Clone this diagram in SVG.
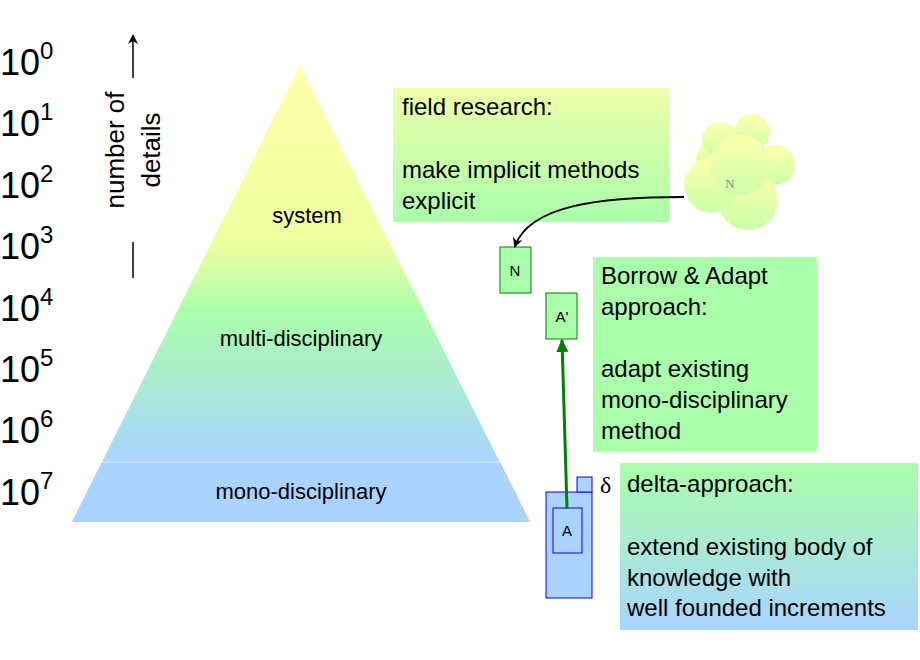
<svg xmlns="http://www.w3.org/2000/svg" width="920" height="660" viewBox="0 0 920 660">
<style>
text{font-family:"Liberation Sans",Arial,sans-serif;fill:#000}
.p{font-size:36px}.s{font-size:24px}
.lbl{font-size:22px}
.bx{font-size:24px}
.sm{fill:#aaffaa;stroke:#008000;stroke-width:1}
</style>
<defs>
<linearGradient id="pyr" x1="0" y1="65" x2="0" y2="462" gradientUnits="userSpaceOnUse">
<stop offset="0" stop-color="#ffffaa"/><stop offset="0.45" stop-color="#eeffa0"/><stop offset="0.62" stop-color="#aaffaa"/><stop offset="1" stop-color="#aad4ff"/>
</linearGradient>
<linearGradient id="fr" x1="0" y1="0" x2="0" y2="1"><stop offset="0" stop-color="#eeffaa"/><stop offset="1" stop-color="#aaffaa"/></linearGradient>
<linearGradient id="dl" x1="0" y1="0" x2="0" y2="1"><stop offset="0" stop-color="#aaffaa"/><stop offset="1" stop-color="#aad4ff"/></linearGradient>
<linearGradient id="cl" x1="0" y1="0" x2="0" y2="1"><stop offset="0" stop-color="#ffffaa"/><stop offset="1" stop-color="#ccffaa"/></linearGradient>
<marker id="ab" markerWidth="10" markerHeight="10" refX="8" refY="5" orient="auto" markerUnits="userSpaceOnUse"><path d="M0,0 L10,5 L0,10 L3,5Z" fill="#000"/></marker>
<marker id="ag" markerWidth="14" markerHeight="14" refX="12" refY="7" orient="auto" markerUnits="userSpaceOnUse"><path d="M0,1 L13,7 L0,13Z" fill="#008000"/></marker>
</defs>
<g id="scale">
<text x="0" y="75"><tspan class="p">10</tspan><tspan class="s" dy="-16">0</tspan></text>
<text x="0" y="136"><tspan class="p">10</tspan><tspan class="s" dy="-16">1</tspan></text>
<text x="0" y="198"><tspan class="p">10</tspan><tspan class="s" dy="-16">2</tspan></text>
<text x="0" y="259"><tspan class="p">10</tspan><tspan class="s" dy="-16">3</tspan></text>
<text x="0" y="321"><tspan class="p">10</tspan><tspan class="s" dy="-16">4</tspan></text>
<text x="0" y="382"><tspan class="p">10</tspan><tspan class="s" dy="-16">5</tspan></text>
<text x="0" y="443"><tspan class="p">10</tspan><tspan class="s" dy="-16">6</tspan></text>
<text x="0" y="505"><tspan class="p">10</tspan><tspan class="s" dy="-16">7</tspan></text>
</g>
<g id="axis">
<line x1="133" y1="78" x2="133" y2="36" stroke="#000" stroke-width="1.5" marker-end="url(#ab)"/>
<line x1="133" y1="242" x2="133" y2="278" stroke="#000" stroke-width="1.5"/>
<text transform="translate(124,150) rotate(-90)" text-anchor="middle" style="font-size:26px">number of</text>
<text transform="translate(160,150) rotate(-90)" text-anchor="middle" style="font-size:26px">details</text>
</g>
<g id="pyramid">
<path d="M300,65 L530,522 L72,522Z" fill="url(#pyr)"/>
<path d="M102,462 L500,462 L530,522 L72,522Z" fill="#aad4ff"/>
<line x1="102" y1="462" x2="500" y2="462" stroke="#ddeeff" stroke-width="1"/>
<text class="lbl" x="307" y="223" text-anchor="middle">system</text>
<text class="lbl" x="301" y="346" text-anchor="middle">multi-disciplinary</text>
<text class="lbl" x="301" y="499" text-anchor="middle">mono-disciplinary</text>
</g>
<g id="field">
<rect x="393" y="88" width="277" height="134" fill="url(#fr)"/>
<text class="bx" x="402" y="115">field research:</text>
<text class="bx" x="402" y="178">make implicit methods</text>
<text class="bx" x="402" y="209">explicit</text>
</g>
<g id="cloud">
<g fill="url(#cl)">
<circle cx="718" cy="160" r="22"/><circle cx="752" cy="132" r="18"/><circle cx="720" cy="140" r="18"/>
<circle cx="775" cy="165" r="20"/><circle cx="748" cy="200" r="30"/><circle cx="712" cy="185" r="28"/><circle cx="740" cy="165" r="30"/>
</g>
<text x="730" y="188" text-anchor="middle" style="font-family:'Liberation Serif',serif;font-size:13px;fill:#888">N</text>
</g>
<g id="borrow">
<rect x="593" y="257" width="224" height="195" fill="#aaffaa"/>
<text class="bx" x="601" y="284">Borrow &amp; Adapt</text>
<text class="bx" x="601" y="315">approach:</text>
<text class="bx" x="601" y="377">adapt existing</text>
<text class="bx" x="601" y="408">mono-disciplinary</text>
<text class="bx" x="601" y="439">method</text>
</g>
<g id="delta">
<rect x="620" y="463" width="298" height="167" fill="url(#dl)"/>
<text class="bx" x="627" y="492">delta-approach:</text>
<text class="bx" x="627" y="555">extend existing body of</text>
<text class="bx" x="627" y="586">knowledge with</text>
<text class="bx" x="627" y="616">well founded increments</text>
<text x="600" y="493" style="font-family:'Liberation Serif',serif;font-size:24px">δ</text>
</g>
<g id="nodeN"><rect class="sm" x="500" y="247" width="31" height="46"/><text x="515" y="276" text-anchor="middle" style="font-size:15px">N</text></g>
<g id="nodeA2"><rect class="sm" x="546" y="293" width="31" height="46"/><text x="562" y="322" text-anchor="middle" style="font-size:15px">A'</text></g>
<g id="nodeA">
<rect x="546" y="492" width="46" height="106" fill="#aad4ff" stroke="#0000ff" stroke-width="1"/>
<rect x="577" y="477" width="15" height="15" fill="#aad4ff" stroke="#0000ff" stroke-width="1"/>
<rect x="553" y="508" width="29" height="45" fill="#aad4ff" stroke="#0000ff" stroke-width="1"/>
<text x="567" y="536" text-anchor="middle" style="font-size:15px">A</text>
</g>
<g id="connectors">
<path d="M684,197 C600,197 530,205 515,246" fill="none" stroke="#000" stroke-width="2" marker-end="url(#ab)"/>
<line x1="567" y1="509" x2="562" y2="340" stroke="#008000" stroke-width="3" marker-end="url(#ag)"/>
</g>
</svg>
